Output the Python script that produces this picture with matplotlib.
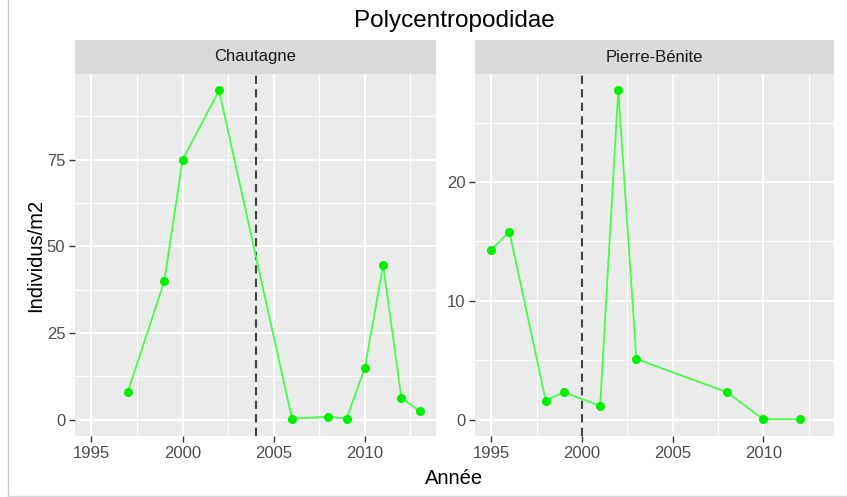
import matplotlib
matplotlib.use("Agg")
import matplotlib.pyplot as plt
from matplotlib.ticker import MultipleLocator
from matplotlib.lines import Line2D

plt.rcParams['font.family'] = ['Liberation Sans', 'DejaVu Sans']

title = "Polycentropodidae"
sites = ["Chautagne", "Pierre-Bénite"]

years_chautagne = [1997, 1999, 2000, 2002, 2006, 2008, 2009, 2010, 2011, 2012, 2013]
dens_chautagne = [8, 40, 75, 95, 0.3, 0.8, 0.3, 15, 44.6, 6.3, 2.4]

years_pierre = [1995, 1996, 1998, 1999, 2001, 2002, 2003, 2008, 2010, 2012]
dens_pierre = [14.3, 15.8, 1.6, 2.3, 1.15, 27.7, 5.1, 2.3, 0.02, 0.02]

# year of the works on each site
breaks = [2004, 2000]

x_ticks = [1995, 2000, 2005, 2010]
y_steps = [25, 10]

series = [(years_chautagne, dens_chautagne), (years_pierre, dens_pierre)]

W, H = 847, 497
fig = plt.figure(figsize=(W / 100, H / 100), dpi=100)

# light frame on left and bottom
fig.add_artist(Line2D([8 / W, 8 / W], [1 - 496 / H, 1], color='#c8c8c8', lw=1))
fig.add_artist(Line2D([8 / W, 1], [1 - 496 / H, 1 - 496 / H], color='#d8d8d8', lw=1))

panel_top, panel_bot = 74, 436
strip_top = 40
lefts = [75, 475]
rights = [436, 834]

# shared x range, ggplot-like 5% expansion
all_years = years_chautagne + years_pierre
xmin, xmax = min(all_years), max(all_years)
xpad = (xmax - xmin) * 0.05

grid_kw = dict(color='white')
for i, (site, (xs, ys)) in enumerate(zip(sites, series)):
    l, r = lefts[i], rights[i]
    ax = fig.add_axes([l / W, 1 - panel_bot / H, (r - l) / W, (panel_bot - panel_top) / H])
    ax.set_facecolor('#ebebeb')
    for s in ax.spines.values():
        s.set_visible(False)

    ax.set_xlim(xmin - xpad, xmax + xpad)
    ymin, ymax = min(ys + [0]), max(ys)
    ypad = (ymax - ymin) * 0.05
    ax.set_ylim(ymin - ypad, ymax + ypad)

    ax.set_xticks(x_ticks)
    ax.xaxis.set_minor_locator(MultipleLocator(2.5))
    ax.yaxis.set_major_locator(MultipleLocator(y_steps[i]))
    ax.yaxis.set_minor_locator(MultipleLocator(y_steps[i] / 2))
    ax.grid(True, which='major', lw=1.5, **grid_kw)
    ax.grid(True, which='minor', lw=0.8, **grid_kw)
    ax.set_axisbelow(True)
    ax.tick_params(which='minor', length=0)
    ax.tick_params(which='major', length=4, width=1, color='#333333',
                   labelsize=12, labelcolor='#4d4d4d', pad=3)

    ax.axvline(breaks[i], color='#444444', lw=1.5, ls=(0, (4, 2.5)), zorder=2)
    ax.plot(xs, ys, color='#44ff44', lw=1.3, zorder=3)
    ax.plot(xs, ys, 'o', color='#00ee00', ms=6.5, mec='none', zorder=4)

    # facet strip
    sax = fig.add_axes([l / W, 1 - panel_top / H, (r - l) / W, (panel_top - strip_top) / H])
    sax.set_facecolor('#d9d9d9')
    sax.set_xticks([]); sax.set_yticks([])
    for s in sax.spines.values():
        s.set_visible(False)
    sax.text(0.5, 0.5, site, ha='center', va='center', fontsize=12,
             color='#1a1a1a', transform=sax.transAxes)

mid = (lefts[0] + rights[1]) / 2 / W
fig.text(mid, 1 - 21 / H, title, ha='center', va='center', fontsize=17.5, color='black')
fig.text(mid, 1 - 479 / H, "Année", ha='center', va='center', fontsize=14.5, color='black')
fig.text(36 / W, 1 - ((panel_top + panel_bot) / 2) / H, "Individus/m2", ha='center',
         va='center', rotation=90, fontsize=14.5, color='black')

fig.savefig("out.png", dpi=100)
